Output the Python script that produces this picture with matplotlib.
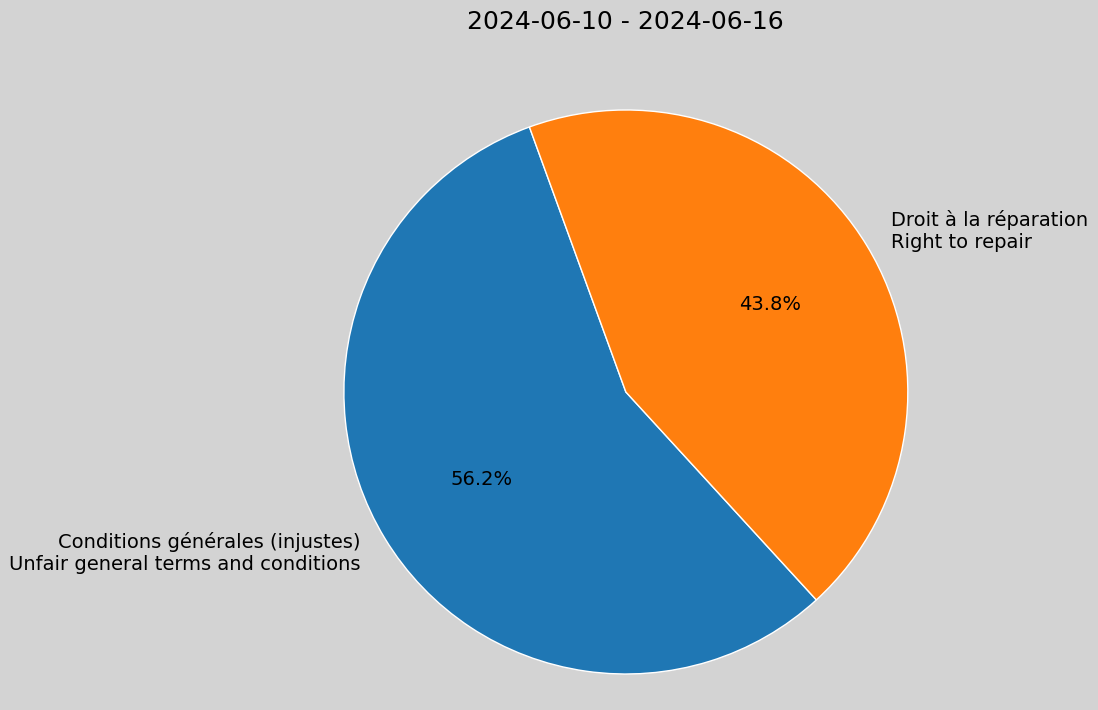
import matplotlib
matplotlib.use("Agg")
from matplotlib import pyplot as plt

labels = ["Conditions générales (injustes)\nUnfair general terms and conditions",
          "Droit à la réparation\nRight to repair"]
counts = [9, 7]
colors = ["#1f77b4", "#ff7f0e"]
title = "2024-06-10 - 2024-06-16"

fig = plt.figure(figsize=(10.98, 7.1), dpi=100, facecolor="lightgray")
ax = fig.add_axes([0.249, -0.0486, 0.642, 0.993])
ax.set_facecolor("lightgray")
ax.pie(counts, labels=labels, colors=colors, autopct="%1.1f%%", startangle=110,
       wedgeprops={"edgecolor": "white", "linewidth": 1},
       textprops={"fontsize": 14})
ax.set_xlim(-1.25, 1.25)
ax.set_ylim(-1.25, 1.25)
ax.set_aspect("auto")
fig.text(0.570, 0.969, title, ha="center", va="center", fontsize=18)
fig.savefig("out.png", facecolor=fig.get_facecolor())
